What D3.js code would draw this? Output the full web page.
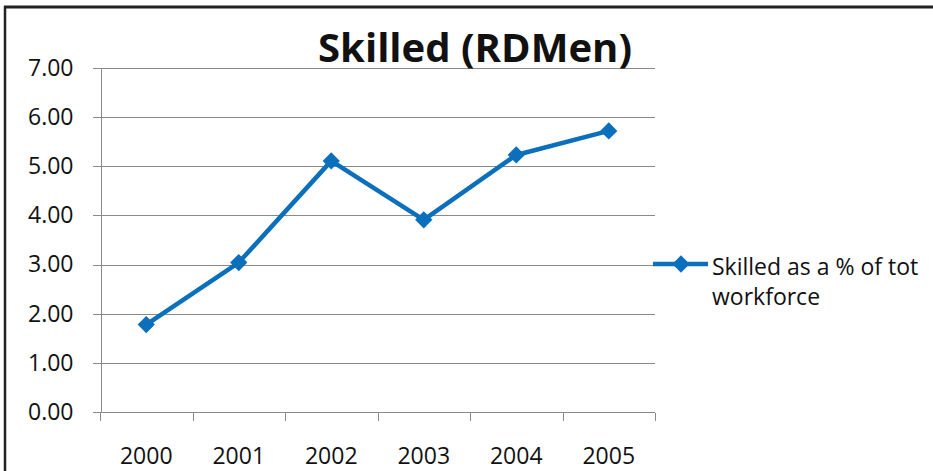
<!DOCTYPE html>
<html>
<head>
<meta charset="utf-8">
<title>Skilled (RDMen)</title>
<script src="https://cdn.jsdelivr.net/npm/d3@7"></script>
<style>
body, html {
  margin: 0;
  padding: 0;
  background: #fff;
}
svg text {
  font-family: "Open Sans", "DejaVu Sans", sans-serif;
  fill: #111;
}
.grid line {
  stroke: #8a8a8a;
  stroke-width: 1px;
}
.axis path, .axis line {
  stroke: #8a8a8a;
  shape-rendering: crispEdges;
}
</style>
</head>
<body>
<script>
// data
var years = ['2000', '2001', '2002', '2003', '2004', '2005'];
var skilledPct = [1.78, 3.04, 5.11, 3.91, 5.23, 5.72];
var yTicks = [0, 1, 2, 3, 4, 5, 6, 7];
var chartTitle = 'Skilled (RDMen)';
var legendLines = ['Skilled as a % of tot', 'workforce'];

var width = 933, height = 471;
var lineColor = '#0b6fbc';

var svg = d3.select('body').append('svg')
  .attr('width', width)
  .attr('height', height);

// frame (only top and left edges show in the crop)
svg.append('line')
  .attr('x1', 4).attr('x2', width).attr('y1', 7).attr('y2', 7)
  .attr('stroke', '#222').attr('stroke-width', 3);
svg.append('line')
  .attr('x1', 5).attr('x2', 5).attr('y1', 6).attr('y2', height)
  .attr('stroke', '#222').attr('stroke-width', 2.5);

var x = d3.scaleBand().domain(years).range([100, 655]);
var y = d3.scaleLinear().domain([0, 7]).range([412, 68]);

// gridlines
svg.append('g').attr('class', 'grid')
  .selectAll('line')
  .data(yTicks.slice(1))
  .enter().append('line')
  .attr('x1', 100).attr('x2', 655)
  .attr('y1', function(d) { return Math.round(y(d)) + 0.5; })
  .attr('y2', function(d) { return Math.round(y(d)) + 0.5; });

// y axis
var yAxis = svg.append('g').attr('class', 'axis')
  .attr('transform', 'translate(100.5,0)')
  .call(d3.axisLeft(y).tickValues(yTicks).tickFormat(d3.format('.2f')).tickSize(8).tickSizeOuter(0).tickPadding(19));
yAxis.selectAll('text').style('font-size', '23px');

// x axis: labels centred in each band, Excel style ticks on the band edges
var xAxis = svg.append('g').attr('class', 'axis')
  .attr('transform', 'translate(0,412.5)')
  .call(d3.axisBottom(x).tickSize(0).tickPadding(35));
xAxis.select('.domain').remove();
xAxis.selectAll('text').style('font-size', '23px');
xAxis.append('line')
  .attr('x1', 100).attr('x2', 655).attr('y1', 0).attr('y2', 0);
xAxis.selectAll('.edge')
  .data(years.map(function(d) { return x(d); }).concat([x.range()[1]]))
  .enter().append('line')
  .attr('class', 'edge')
  .attr('x1', function(d) { return Math.round(d) + 0.5; })
  .attr('x2', function(d) { return Math.round(d) + 0.5; })
  .attr('y1', 0).attr('y2', 8);

// series
var pts = years.map(function(d, i) { return [x(d) + x.bandwidth() / 2, y(skilledPct[i])]; });

svg.append('path')
  .datum(pts)
  .attr('fill', 'none')
  .attr('stroke', lineColor)
  .attr('stroke-width', 4.5)
  .attr('stroke-linejoin', 'round')
  .attr('d', d3.line());

var diamond = d3.symbol().type(d3.symbolDiamond2).size(190);

svg.append('g').selectAll('path')
  .data(pts)
  .enter().append('path')
  .attr('fill', lineColor)
  .attr('transform', function(d) { return 'translate(' + d[0] + ',' + d[1] + ')'; })
  .attr('d', diamond);

// title, scaled to the width it has in the picture
var title = svg.append('text')
  .attr('x', 475).attr('y', 62)
  .attr('text-anchor', 'middle')
  .style('font-weight', 'bold')
  .style('font-size', '36px')
  .text(chartTitle);
var tw = title.node().getComputedTextLength();
title.style('font-size', (36 * 314 / tw) + 'px');

// legend
var lg = svg.append('g');
lg.append('line')
  .attr('x1', 653).attr('x2', 708).attr('y1', 264).attr('y2', 264)
  .attr('stroke', lineColor).attr('stroke-width', 4.5);
lg.append('path')
  .attr('fill', lineColor)
  .attr('transform', 'translate(681,264)')
  .attr('d', diamond);
lg.selectAll('text')
  .data(legendLines)
  .enter().append('text')
  .attr('x', 712)
  .attr('y', function(d, i) { return 275 + i * 30; })
  .style('font-size', '23px')
  .text(function(d) { return d; });
</script>
</body>
</html>
